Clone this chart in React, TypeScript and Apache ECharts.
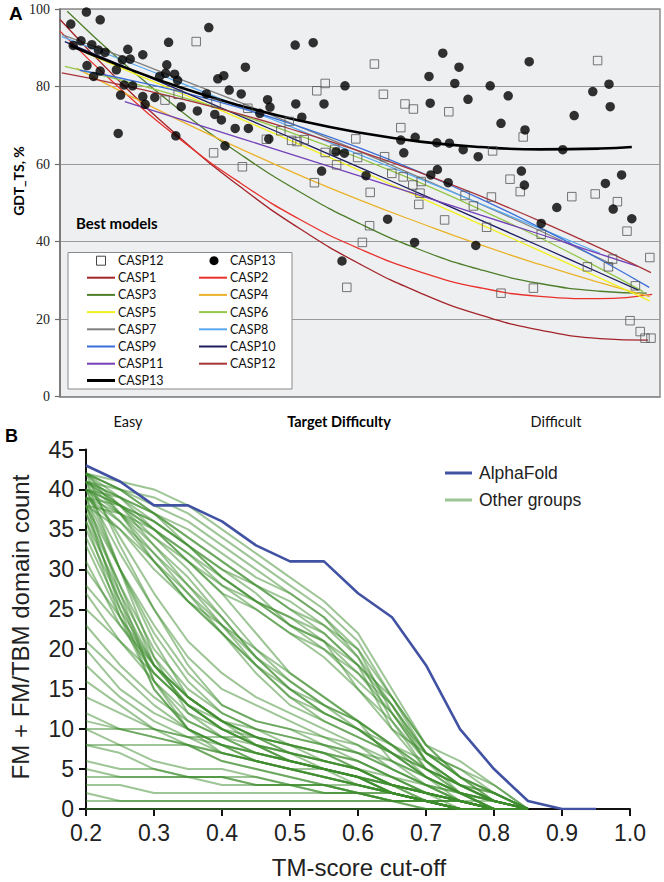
import React, { useEffect, useRef } from 'react';
import * as echarts from 'echarts';

// ---------- Panel A data (x = target difficulty, 0 easy .. 100 difficult) ----------
const casp13Best: [number, number][] = [
  [4.4, 99.2], [1.8, 96.1], [6.7, 97.2], [3.5, 91.8], [2.2, 90.6], [5.3, 90.8], [6.4, 89.4], [7.5, 88.8],
  [4.5, 85.4], [6.7, 84.0], [5.6, 82.6], [9.4, 84.3], [11.3, 89.6], [11.7, 87.1], [10.4, 86.9], [13.8, 88.2],
  [10.7, 80.4], [12.1, 80.2], [10.1, 77.8], [9.7, 67.9], [18.1, 91.4], [24.8, 95.2], [17.8, 85.6], [17.6, 83.4],
  [19.1, 83.2], [19.6, 81.6], [16.6, 82.6], [13.8, 77.4], [14.2, 75.4], [15.8, 77.2], [20.2, 74.8], [19.3, 67.3],
  [24.4, 78.1], [26.3, 82.0], [27.3, 82.8], [28.2, 79.1], [30.2, 78.1], [30.9, 85.0], [22.9, 73.7], [25.8, 72.8],
  [26.9, 71.4], [29.2, 69.2], [31.4, 69.2], [27.5, 64.7], [33.3, 73.1],
  [39.2, 90.7], [42.2, 91.3], [47.5, 80.2], [63.8, 88.6], [66.5, 85.0], [61.5, 82.6], [65.8, 80.8], [68.0, 76.7],
  [61.7, 75.7], [34.6, 76.6], [35.0, 74.7], [39.3, 75.5], [44.0, 75.5], [40.3, 72.1], [34.8, 66.5], [46.0, 63.2],
  [47.4, 62.8], [43.6, 58.2], [51.0, 57.0], [56.8, 66.2], [59.2, 66.9], [57.3, 62.9], [62.8, 65.5], [64.9, 65.4],
  [67.2, 63.7], [62.9, 58.6], [61.8, 57.2], [64.7, 55.2],
  [78.2, 86.4], [71.7, 80.2], [74.7, 77.6], [73.5, 70.5], [77.5, 68.8], [69.7, 61.9], [83.8, 63.7], [88.8, 78.7],
  [91.5, 80.6], [91.7, 74.8], [85.7, 72.5], [76.9, 58.2], [77.4, 54.6], [90.9, 55.0], [93.6, 57.2],
  [54.6, 45.8], [59.1, 39.8], [69.3, 39.0], [82.8, 48.8], [92.2, 48.4], [95.3, 45.9], [80.2, 44.7], [47.0, 35.0],
];

const casp12Best: [number, number][] = [
  [22.7, 91.6], [17.5, 76.5], [19.7, 78.0], [26.0, 75.7], [31.3, 74.4], [25.6, 62.9], [30.4, 59.3], [34.4, 66.4],
  [52.4, 85.8], [44.2, 80.8], [42.8, 78.9], [53.9, 78.0], [57.5, 75.5], [58.9, 74.2], [64.8, 73.5], [38.2, 71.0],
  [36.8, 68.6], [56.8, 69.4], [49.3, 66.5], [38.6, 66.1], [40.7, 66.3], [39.5, 65.8], [44.2, 63.0], [45.8, 63.8],
  [49.6, 61.7], [54.1, 61.9], [46.1, 59.8], [55.3, 57.6], [57.2, 56.7], [58.8, 54.6], [60.2, 55.5], [42.4, 55.2],
  [51.7, 52.7], [60.0, 52.5], [67.5, 51.9],
  [89.6, 86.7], [77.2, 67.0], [72.1, 63.4], [75.0, 56.1], [76.7, 52.9], [85.3, 51.6], [89.2, 52.3], [71.9, 51.5],
  [92.9, 50.3],
  [59.8, 49.6], [64.1, 45.6], [51.6, 44.1], [50.4, 39.8], [71.1, 43.7], [68.9, 49.2], [94.5, 42.7], [98.3, 35.9],
  [92.1, 35.5], [91.4, 33.5], [87.9, 33.5], [80.2, 41.9], [78.9, 28.0], [73.5, 26.7], [95.9, 28.6], [95.0, 19.6],
  [96.7, 16.8], [97.5, 15.1], [98.5, 15.1], [47.8, 28.2],
];

const trendNames = ['CASP1', 'CASP2', 'CASP3', 'CASP4', 'CASP5', 'CASP6', 'CASP7', 'CASP8', 'CASP9', 'CASP10', 'CASP11', 'CASP12', 'CASP13'];
const trendColors = ['#a3242a', '#e8322c', '#4f7f2a', '#eab32a', '#f2f01c', '#94c748', '#7f7f7f', '#5aa9ef', '#3b6fd8', '#1c1c5e', '#7340b8', '#a8343a', '#000000'];

// trend-line readings (x, GDT_TS) along each fitted curve
const casp1Trend = [[0, 97.3], [10, 81.2], [20, 66.8], [30, 54.2], [40, 43.3], [50, 34.2], [60, 26.8], [70, 21.1], [80, 17.2], [90, 15.0], [98, 14.6]];
const casp2Trend = [[0, 94.3], [10, 79.5], [20, 66.4], [30, 55.2], [40, 45.7], [50, 38.1], [60, 32.2], [70, 28.1], [80, 25.9], [90, 25.3], [98.7, 26.4]];
const casp3Trend = [[1.2, 99.4], [10, 86.8], [20, 73.9], [30, 62.6], [40, 52.8], [50, 44.6], [60, 37.9], [70, 32.8], [80, 29.2], [90, 27.2], [97.8, 26.7]];
const casp4Trend = [[2.8, 84.7], [10, 78.9], [20, 71.2], [30, 64.0], [40, 57.1], [50, 50.7], [60, 44.8], [70, 39.2], [80, 34.1], [90, 29.4], [98.3, 25.8]];
const casp5Trend = [[4.4, 88.6], [10, 84.9], [20, 78.4], [30, 71.7], [40, 65.0], [50, 58.3], [60, 51.4], [70, 44.5], [80, 37.6], [90, 30.6], [98.3, 24.7]];
const casp6Trend = [[0.8, 85.2], [10, 81.7], [20, 77.4], [30, 72.7], [40, 67.3], [50, 61.5], [60, 55.2], [70, 48.3], [80, 41.0], [90, 33.1], [97.2, 27.1]];
const casp7Trend = [[0.3, 93.4], [10, 87.9], [20, 81.9], [30, 75.9], [40, 69.6], [50, 63.2], [60, 56.5], [70, 49.7], [80, 42.8], [92.2, 34.0]];
const casp8Trend = [[0.3, 92.9], [10, 87.1], [20, 81.0], [30, 74.8], [40, 68.7], [50, 62.4], [60, 56.2], [70, 49.8], [80, 43.4], [90, 37.0]];
const casp9Trend = [[3.3, 84.2], [10, 82.2], [20, 78.7], [30, 74.5], [40, 69.6], [50, 64.1], [60, 57.9], [70, 51.1], [80, 43.6], [90, 35.4], [98.2, 28.2]];
const casp10Trend = [[0.8, 91.6], [10, 85.6], [20, 79.0], [30, 72.4], [40, 65.8], [50, 59.1], [60, 52.4], [70, 45.6], [80, 38.8], [90, 31.9], [96.4, 27.5]];
const casp11Trend = [[10.8, 76.1], [20, 71.6], [30, 66.7], [40, 61.8], [50, 56.9], [60, 51.9], [70, 46.9], [80, 41.9], [90, 36.8], [96.3, 33.6]];
const casp12Trend = [[0.3, 83.5], [10, 80.5], [20, 76.9], [30, 72.9], [40, 68.3], [50, 63.3], [60, 57.8], [70, 51.8], [80, 45.3], [90, 38.3], [98.5, 32.0]];
const casp13Trend = [[1.7, 90.6], [10, 85.4], [20, 79.8], [30, 75.1], [40, 71.2], [50, 68.1], [60, 65.8], [70, 64.4], [80, 63.8], [90, 64.0], [95.3, 64.4]];
const trendData = [casp1Trend, casp2Trend, casp3Trend, casp4Trend, casp5Trend, casp6Trend, casp7Trend, casp8Trend, casp9Trend, casp10Trend, casp11Trend, casp12Trend, casp13Trend];

const yTicksA = [0, 20, 40, 60, 80, 100];
const difficultyLabels = ['Easy', 'Target Difficulty', 'Difficult'];

// ---------- Panel B data ----------
const tmCutoffs = [0.2, 0.25, 0.3, 0.35, 0.4, 0.45, 0.5, 0.55, 0.6, 0.65, 0.7, 0.75, 0.8, 0.85, 0.9, 0.95];
const alphaFold = [43, 41, 38, 38, 36, 33, 31, 31, 27, 24, 18, 10, 5, 1, 0, 0];
const otherGroups: number[][] = [
  [42, 41, 40, 38, 35, 32, 29, 26, 22, 15, 8, 6, 3, 0],
  [42, 40, 39, 37, 34, 31, 28, 25, 21, 14, 7, 5, 2, 0],
  [41, 40, 38, 36, 33, 30, 27, 24, 20, 14, 8, 4, 2, 0],
  [41, 39, 37, 35, 32, 29, 27, 24, 19, 13, 7, 4, 1, 0],
  [40, 39, 37, 34, 31, 28, 26, 23, 20, 12, 6, 3, 1, 0],
  [42, 40, 37, 34, 31, 28, 25, 22, 18, 13, 7, 5, 3, 0],
  [40, 38, 36, 33, 30, 28, 25, 23, 19, 11, 6, 3, 1, 0],
  [39, 38, 36, 33, 29, 26, 24, 21, 17, 12, 7, 4, 2, 0],
  [41, 39, 36, 33, 30, 27, 23, 21, 18, 14, 8, 4, 1, 0],
  [38, 37, 35, 32, 29, 26, 24, 22, 18, 10, 5, 3, 1, 0],
  [42, 40, 37, 33, 29, 26, 23, 20, 17, 13, 6, 3, 2, 0],
  [40, 38, 35, 32, 28, 25, 22, 20, 16, 12, 6, 2, 1, 0],
  [39, 37, 34, 31, 28, 26, 23, 21, 15, 10, 7, 4, 2, 0],
  [41, 38, 35, 31, 27, 25, 22, 19, 15, 11, 5, 2, 0, 0],
  [42, 39, 35, 31, 27, 22, 17, 14, 11, 8, 5, 3, 1, 0],
  [41, 38, 34, 30, 25, 20, 16, 13, 11, 8, 5, 2, 1, 0],
  [40, 37, 33, 29, 24, 19, 15, 12, 10, 7, 4, 2, 0, 0],
  [42, 38, 33, 28, 24, 19, 15, 12, 10, 7, 5, 3, 1, 0],
  [39, 36, 32, 28, 23, 18, 14, 12, 10, 8, 6, 3, 1, 0],
  [41, 37, 32, 27, 22, 18, 14, 11, 9, 7, 4, 2, 0, 0],
  [40, 36, 31, 26, 22, 17, 13, 11, 9, 7, 4, 1, 0, 0],
  [38, 35, 31, 27, 23, 19, 16, 13, 10, 7, 5, 3, 2, 0],
  [42, 37, 31, 26, 22, 18, 15, 13, 11, 8, 4, 2, 1, 0],
  [39, 35, 30, 26, 23, 20, 17, 14, 11, 6, 3, 1, 0, 0],
  [41, 34, 27, 21, 17, 14, 12, 10, 8, 6, 4, 2, 0, 0],
  [40, 32, 25, 19, 15, 13, 11, 9, 8, 5, 3, 2, 1, 0],
  [38, 30, 23, 17, 13, 11, 10, 9, 7, 6, 4, 2, 0, 0],
  [42, 33, 25, 18, 13, 11, 10, 8, 7, 5, 3, 1, 0, 0],
  [39, 30, 22, 16, 12, 10, 9, 8, 7, 5, 3, 2, 1, 0],
  [37, 28, 20, 15, 12, 10, 9, 8, 6, 4, 2, 1, 0, 0],
  [40, 30, 21, 14, 11, 9, 8, 7, 6, 4, 2, 1, 0, 0],
  [36, 27, 19, 14, 11, 9, 8, 7, 5, 4, 3, 1, 0, 0],
  [38, 28, 18, 13, 10, 9, 8, 7, 6, 4, 2, 1, 0, 0],
  [41, 30, 19, 12, 9, 8, 7, 6, 5, 3, 2, 1, 0, 0],
  [35, 26, 18, 13, 10, 8, 7, 6, 5, 3, 2, 0, 0, 0],
  [37, 26, 16, 11, 9, 7, 6, 5, 4, 3, 1, 0, 0, 0],
  [39, 27, 16, 10, 8, 7, 6, 5, 4, 3, 1, 0, 0, 0],
  [34, 25, 18, 14, 11, 10, 8, 6, 5, 3, 2, 1, 0, 0],
  [36, 24, 15, 10, 8, 7, 6, 5, 4, 2, 1, 0, 0, 0],
  [33, 24, 17, 13, 10, 8, 7, 5, 4, 2, 1, 0, 0, 0],
  [38, 25, 15, 10, 7, 6, 5, 5, 4, 2, 1, 0, 0, 0],
  [31, 23, 17, 13, 11, 9, 7, 6, 5, 3, 2, 1, 0, 0],
  [30, 24, 18, 14, 11, 8, 6, 5, 4, 2, 1, 0, 0, 0],
  [28, 23, 18, 14, 11, 9, 7, 6, 5, 3, 2, 1, 0, 0],
  [27, 21, 16, 12, 10, 8, 6, 5, 4, 2, 1, 0, 0, 0],
  [25, 21, 17, 13, 10, 8, 6, 5, 3, 2, 1, 0, 0, 0],
  [23, 18, 14, 11, 9, 7, 6, 5, 4, 3, 2, 1, 0, 0],
  [21, 17, 13, 10, 8, 6, 5, 4, 3, 2, 1, 0, 0, 0],
  [20, 15, 12, 10, 8, 7, 6, 5, 4, 3, 2, 1, 0, 0],
  [18, 14, 11, 9, 8, 6, 5, 4, 3, 2, 1, 0, 0, 0],
  [16, 13, 10, 9, 7, 6, 5, 4, 3, 2, 1, 1, 0, 0],
  [14, 12, 10, 8, 6, 5, 4, 3, 3, 2, 1, 0, 0, 0],
  [12, 10, 9, 8, 6, 5, 4, 3, 2, 1, 1, 0, 0, 0],
  [11, 10, 9, 8, 7, 6, 5, 4, 3, 2, 1, 0, 0, 0],
  [10, 8, 6, 5, 5, 4, 3, 3, 2, 1, 1, 0, 0, 0],
  [8, 8, 8, 8, 7, 6, 5, 4, 3, 2, 1, 0, 0, 0],
  [8, 7, 5, 4, 4, 3, 3, 2, 2, 1, 0, 0, 0, 0],
  [6, 5, 5, 4, 4, 3, 3, 3, 2, 2, 1, 0, 0, 0],
  [5, 4, 4, 4, 4, 4, 3, 3, 2, 2, 1, 1, 0, 0],
  [4, 4, 4, 4, 3, 3, 3, 2, 2, 1, 1, 0, 0, 0],
  [3, 3, 2, 2, 2, 2, 2, 2, 2, 1, 1, 1, 0, 0],
  [2, 1, 1, 1, 1, 1, 1, 1, 1, 1, 0, 0, 0, 0],
  [1, 1, 1, 1, 1, 1, 1, 1, 1, 1, 1, 1, 1, 0],
  [0, 0, 0, 0, 0, 0, 0, 0, 0, 0, 0, 0, 0, 0],
  [10, 10, 10, 9, 9, 9, 8, 7, 5, 3, 2, 1, 0, 0],
];

const SANS_A = 'Lato, "Open Sans", sans-serif';
const SANS_B = '"Liberation Sans", Arial, sans-serif';
const SERIF = '"Liberation Serif", "Times New Roman", serif';

function buildOption() {
  const series: any[] = [];
  trendNames.forEach((name, i) => {
    series.push({
      name,
      type: 'line',
      xAxisIndex: 0,
      yAxisIndex: 0,
      data: trendData[i],
      smooth: true,
      showSymbol: false,
      silent: true,
      lineStyle: { color: trendColors[i], width: name === 'CASP13' ? 2.6 : 1.3 },
      z: 2,
    });
  });
  series.push({
    name: 'CASP12 best',
    type: 'scatter',
    xAxisIndex: 0,
    yAxisIndex: 0,
    data: casp12Best,
    symbol: 'rect',
    symbolSize: 8.5,
    itemStyle: { color: 'rgba(0,0,0,0)', borderColor: '#555', borderWidth: 1 },
    z: 3,
  });
  series.push({
    name: 'CASP13 best',
    type: 'scatter',
    xAxisIndex: 0,
    yAxisIndex: 0,
    data: casp13Best,
    symbol: 'circle',
    symbolSize: 9.5,
    itemStyle: { color: '#000' },
    z: 4,
  });
  otherGroups.forEach((vals) => {
    series.push({
      name: 'Other groups',
      type: 'line',
      xAxisIndex: 1,
      yAxisIndex: 1,
      data: vals.map((v, j) => [tmCutoffs[j], v]),
      showSymbol: false,
      silent: true,
      lineStyle: { color: '#3b8c2c', width: 2, opacity: 0.5 },
      z: 2,
    });
  });
  series.push({
    name: 'AlphaFold',
    type: 'line',
    xAxisIndex: 1,
    yAxisIndex: 1,
    data: alphaFold.map((v, j) => [tmCutoffs[j], v]),
    showSymbol: false,
    silent: true,
    lineStyle: { color: '#4152a3', width: 2.6 },
    z: 5,
  });

  // legend for panel A (graphic)
  const legendEls: any[] = [];
  const colX = [[87, 115, 118], [199, 227, 230]];
  const rowY = [260.7, 277.7, 294.9, 312.1, 329.3, 346.5, 363.7, 380.5];
  legendEls.push({
    type: 'rect',
    shape: { x: 68, y: 252.5, width: 224, height: 136.5 },
    style: { fill: '#fff', stroke: '#8a8a8a', lineWidth: 1 },
    z: 100,
  });
  legendEls.push({
    type: 'rect',
    shape: { x: 96.5, y: rowY[0] - 4.5, width: 9, height: 9 },
    style: { fill: 'none', stroke: '#444', lineWidth: 1 },
    z: 101,
  });
  legendEls.push({
    type: 'text',
    style: { text: 'CASP12', x: colX[0][2], y: rowY[0], font: `12.5px ${SANS_A}`, fill: '#111', verticalAlign: 'middle', align: 'left' },
    z: 101,
  });
  legendEls.push({
    type: 'circle',
    shape: { cx: 214, cy: rowY[0], r: 4.5 },
    style: { fill: '#000' },
    z: 101,
  });
  legendEls.push({
    type: 'text',
    style: { text: 'CASP13', x: colX[1][2], y: rowY[0], font: `12.5px ${SANS_A}`, fill: '#111', verticalAlign: 'middle', align: 'left' },
    z: 101,
  });
  trendNames.forEach((name, i) => {
    const row = 1 + Math.floor(i / 2);
    const col = i % 2;
    legendEls.push({
      type: 'line',
      shape: { x1: colX[col][0], y1: rowY[row], x2: colX[col][1], y2: rowY[row] },
      style: { stroke: trendColors[i], lineWidth: name === 'CASP13' ? 3 : 2 },
      z: 101,
    });
    legendEls.push({
      type: 'text',
      style: { text: name, x: colX[col][2], y: rowY[row], font: `12.5px ${SANS_A}`, fill: '#111', verticalAlign: 'middle', align: 'left' },
      z: 101,
    });
  });

  const graphic: any[] = [
    ...legendEls,
    { type: 'text', style: { text: 'A', x: 9, y: 13, font: `bold 19px ${SANS_B}`, fill: '#000', verticalAlign: 'middle', align: 'left' }, z: 100 },
    { type: 'text', style: { text: 'B', x: 5, y: 436, font: `bold 18px ${SANS_B}`, fill: '#000', verticalAlign: 'middle', align: 'left' }, z: 100 },
    { type: 'text', x: 18, y: 181, rotation: Math.PI / 2, style: { text: 'GDT_TS, %', x: 0, y: 0, font: `bold 14px ${SANS_A}`, fill: '#000', verticalAlign: 'middle', align: 'center' }, z: 100 },
    { type: 'text', style: { text: 'Best models', x: 76, y: 223, font: `bold 15px ${SANS_A}`, fill: '#000', verticalAlign: 'middle', align: 'left' }, z: 100 },
    { type: 'text', style: { text: difficultyLabels[0], x: 128, y: 421, font: `14.5px ${SANS_A}`, fill: '#111', verticalAlign: 'middle', align: 'center' }, z: 100 },
    { type: 'text', style: { text: difficultyLabels[1], x: 339, y: 421, font: `bold 14.5px ${SANS_A}`, fill: '#000', verticalAlign: 'middle', align: 'center' }, z: 100 },
    { type: 'text', style: { text: difficultyLabels[2], x: 556, y: 421, font: `14.5px ${SANS_A}`, fill: '#111', verticalAlign: 'middle', align: 'center' }, z: 100 },
    { type: 'text', x: 20, y: 627, rotation: Math.PI / 2, style: { text: 'FM + FM/TBM domain count', x: 0, y: 0, font: `24px ${SANS_B}`, fill: '#222', verticalAlign: 'middle', align: 'center' }, z: 100 },
    { type: 'text', style: { text: 'TM-score cut-off', x: 359, y: 867, font: `24px ${SANS_B}`, fill: '#222', verticalAlign: 'middle', align: 'center' }, z: 100 },
    { type: 'line', shape: { x1: 445, y1: 473, x2: 472, y2: 473 }, style: { stroke: '#4152a3', lineWidth: 3 }, z: 100 },
    { type: 'text', style: { text: 'AlphaFold', x: 479, y: 473, font: `17.5px ${SANS_B}`, fill: '#222', verticalAlign: 'middle', align: 'left' }, z: 100 },
    { type: 'line', shape: { x1: 445, y1: 500, x2: 472, y2: 500 }, style: { stroke: '#9dc595', lineWidth: 3 }, z: 100 },
    { type: 'text', style: { text: 'Other groups', x: 479, y: 500, font: `17.5px ${SANS_B}`, fill: '#222', verticalAlign: 'middle', align: 'left' }, z: 100 },
  ];

  return {
    animation: false,
    backgroundColor: '#fff',
    grid: [
      { left: 60, top: 9, width: 600, height: 387.7, show: true, backgroundColor: '#eeeff1', borderColor: '#8c8c8c', borderWidth: 1.5 },
      { left: 86, top: 449.5, width: 544, height: 359.5, show: false },
    ],
    xAxis: [
      {
        type: 'value', gridIndex: 0, min: 0, max: 100,
        axisLine: { show: true, lineStyle: { color: '#8c8c8c', width: 1.5 } },
        axisTick: { show: false }, axisLabel: { show: false }, splitLine: { show: false },
      },
      {
        type: 'value', gridIndex: 1, min: 0.2, max: 1.0, interval: 0.1,
        axisLine: { show: true, onZero: false, lineStyle: { color: '#111', width: 2 } },
        axisTick: { show: true, length: 7, lineStyle: { color: '#111', width: 2 } },
        axisLabel: { fontSize: 23, fontFamily: SANS_B, color: '#222', margin: 12, formatter: (v: number) => v.toFixed(1) },
        splitLine: { show: false },
      },
    ],
    yAxis: [
      {
        type: 'value', gridIndex: 0, min: yTicksA[0], max: yTicksA[yTicksA.length - 1], interval: 20,
        axisLine: { show: true, lineStyle: { color: '#6e6e6e', width: 1.5 } },
        axisTick: { show: true, length: 5, lineStyle: { color: '#6e6e6e', width: 1.2 } },
        axisLabel: { fontSize: 14, fontFamily: SERIF, color: '#222', margin: 10 },
        splitLine: { show: true, lineStyle: { color: '#9a9a9a', width: 1.2 } },
      },
      {
        type: 'value', gridIndex: 1, min: 0, max: 45, interval: 5,
        axisLine: { show: true, onZero: false, lineStyle: { color: '#111', width: 2 } },
        axisTick: { show: true, length: 7, lineStyle: { color: '#111', width: 2 } },
        axisLabel: { fontSize: 23, fontFamily: SANS_B, color: '#222', margin: 12 },
        splitLine: { show: false },
      },
    ],
    series,
    graphic,
  };
}

export default function App() {
  const ref = useRef<HTMLDivElement>(null);
  useEffect(() => {
    if (!ref.current) return;
    const chart = echarts.init(ref.current, undefined, { renderer: 'svg' });
    chart.setOption(buildOption() as any);
    return () => chart.dispose();
  }, []);
  return (
    <div
      ref={ref}
      style={{ position: 'fixed', left: 0, top: 0, width: 664, height: 882, background: '#fff' }}
    />
  );
}
